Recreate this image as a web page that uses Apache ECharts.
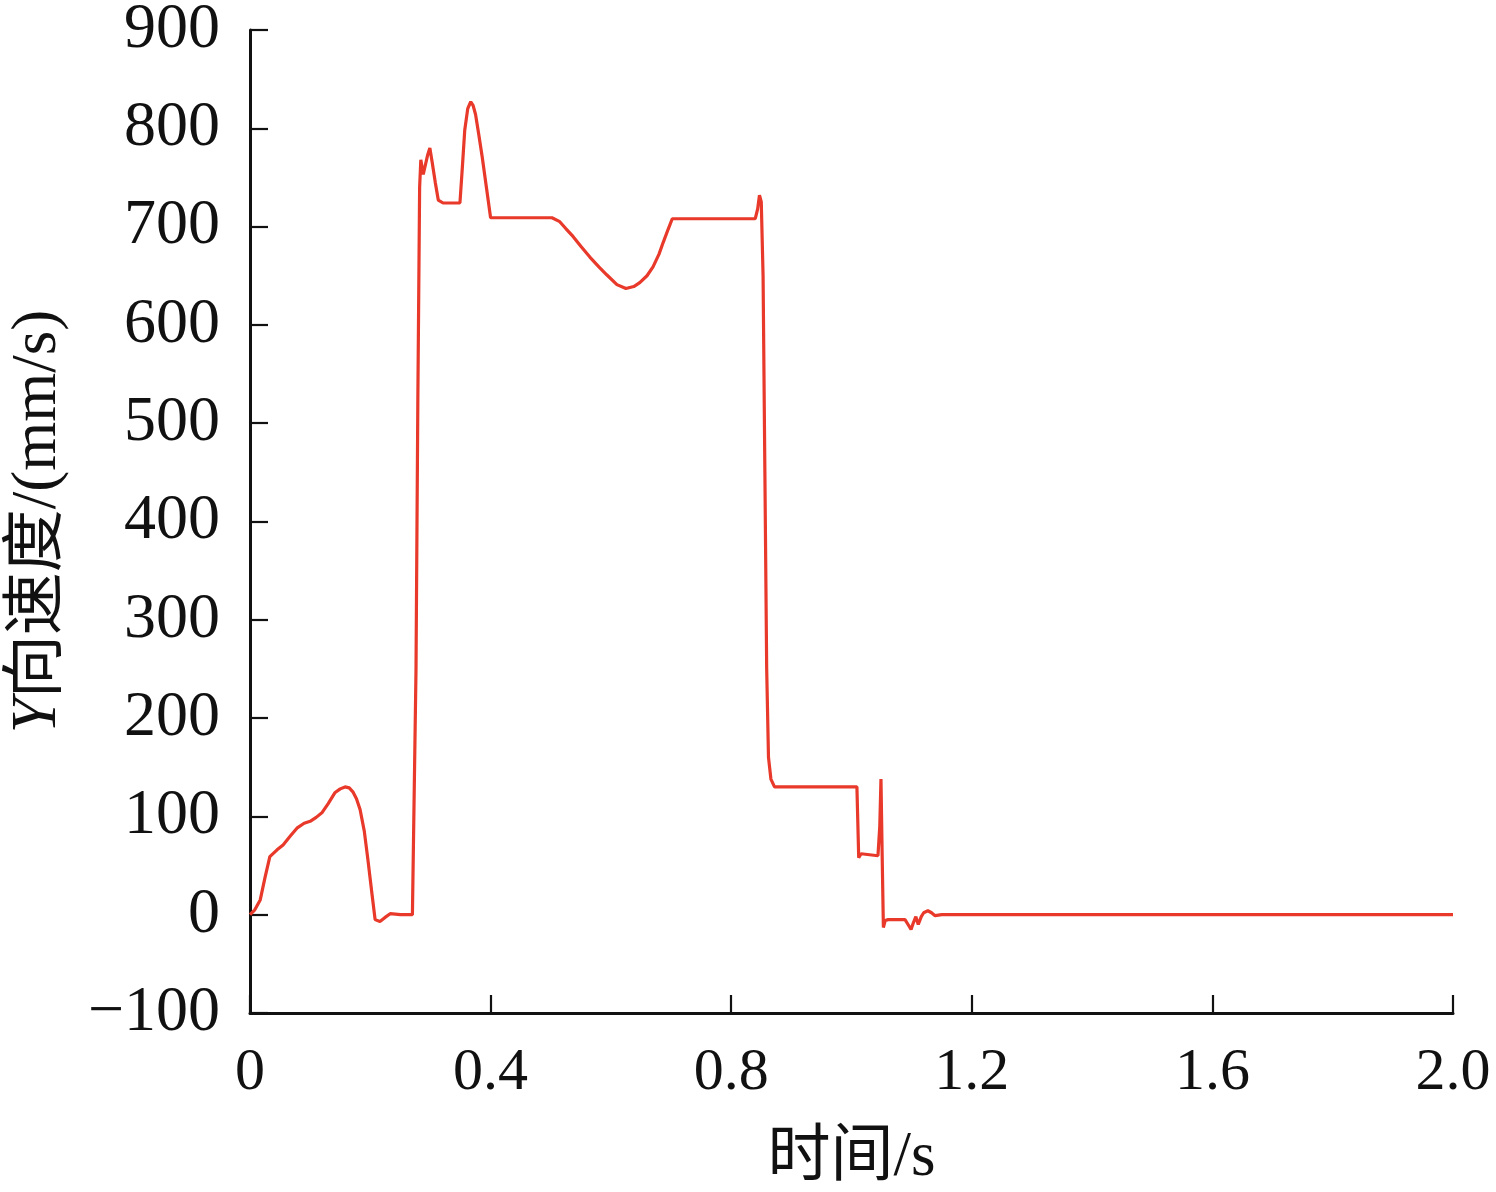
<!DOCTYPE html>
<html>
<head>
<meta charset="utf-8">
<script src="https://cdn.jsdelivr.net/npm/echarts@6/dist/echarts.min.js"></script>
<style>
html,body{margin:0;padding:0;background:#fff;}
#chart{width:1496px;height:1192px;}
</style>
</head>
<body>
<div id="chart"></div>
<script>
const timeS = [0,0.008,0.017,0.025,0.033,0.045,0.055,0.067,0.078,0.09,0.1,0.11,0.12,0.13,0.141,0.15,0.158,0.165,0.171,0.177,0.183,0.19,0.196,0.203,0.208,0.216,0.224,0.233,0.25,0.27,
0.272,0.276,0.279,0.282,0.284,0.288,0.291,0.295,0.299,0.303,0.308,0.313,0.321,0.349,0.353,0.357,0.362,0.367,0.371,0.375,0.38,0.386,0.393,0.4,
0.502,0.515,0.525,0.537,0.55,0.565,0.58,0.593,0.61,0.625,0.638,0.648,0.66,0.67,0.68,0.687,0.695,0.702,
0.84,0.844,0.847,0.85,0.853,0.856,0.859,0.862,0.866,0.872,
1.009,1.012,1.016,1.03,1.044,1.047,1.049,1.051,1.053,1.056,1.061,1.089,1.094,1.099,1.103,1.107,1.111,1.116,1.12,1.127,1.133,1.139,1.15,2.0];
const velocity = [0,5,15,38,59,66,71,80,88,93,95,99,104,113,124,128,130,129,125,118,107,85,56,20,-5,-7,-3,1,0,0,
0,250,520,740,768,753,755,772,780,765,745,727,724,724,760,798,820,827,823,814,795,771,740,709,
709,705,698,690,680,669,659,651,641,637,639,643,650,659,672,684,697,708,
708,718,732,725,650,450,250,160,138,130,
130,58,62,61,60,90,138,60,-13,-6,-5,-5,-10,-15,-8,-2,-10,-2,2,4,2,-1,0,0];
const xTicks = {min:0, max:2, interval:0.4};
const yTicks = {min:-100, max:900, interval:100};

const data = timeS.map((t,i)=>[t, velocity[i]]);
const font = '"Liberation Serif","Times New Roman","Noto Sans CJK SC",serif';
const chart = echarts.init(document.getElementById('chart'), null, {renderer:'canvas'});
chart.setOption({
  animation:false,
  backgroundColor:'#fff',
  grid:{left:250,right:43,top:30,bottom:179,containLabel:false,outerBoundsMode:'none'},
  xAxis:{
    type:'value', min:xTicks.min, max:xTicks.max, interval:xTicks.interval,
    name:'时间/s', nameLocation:'middle', nameGap:114,
    nameTextStyle:{fontFamily:font,fontSize:63,color:'#111'},
    axisLine:{onZero:false,lineStyle:{color:'#111',width:3}},
    axisTick:{inside:true,length:18,lineStyle:{color:'#111',width:2.2}},
    axisLabel:{fontFamily:font,fontSize:60,color:'#111',margin:30,
      formatter:v=> v===0 ? '0' : v.toFixed(1)},
    splitLine:{show:false}
  },
  yAxis:{
    type:'value', min:yTicks.min, max:yTicks.max, interval:yTicks.interval,
    name:'{i|Y}向速度/(mm/s)', nameLocation:'middle', nameGap:180,
    nameTextStyle:{fontFamily:font,fontSize:63,color:'#111',
      rich:{i:{fontStyle:'italic',fontFamily:font,fontSize:63,color:'#111'}}},
    axisLine:{onZero:false,lineStyle:{color:'#111',width:3}},
    axisTick:{inside:true,length:18,lineStyle:{color:'#111',width:2.2}},
    axisLabel:{fontFamily:font,fontSize:64,color:'#111',margin:30,
      formatter:v=> v<0 ? '\u2212'+Math.abs(v) : String(v)},
    splitLine:{show:false}
  },
  series:[{
    type:'line', data:data, showSymbol:false, symbol:'none',
    lineStyle:{color:'#e8392a',width:3.2}
  }]
});
</script>
</body>
</html>
